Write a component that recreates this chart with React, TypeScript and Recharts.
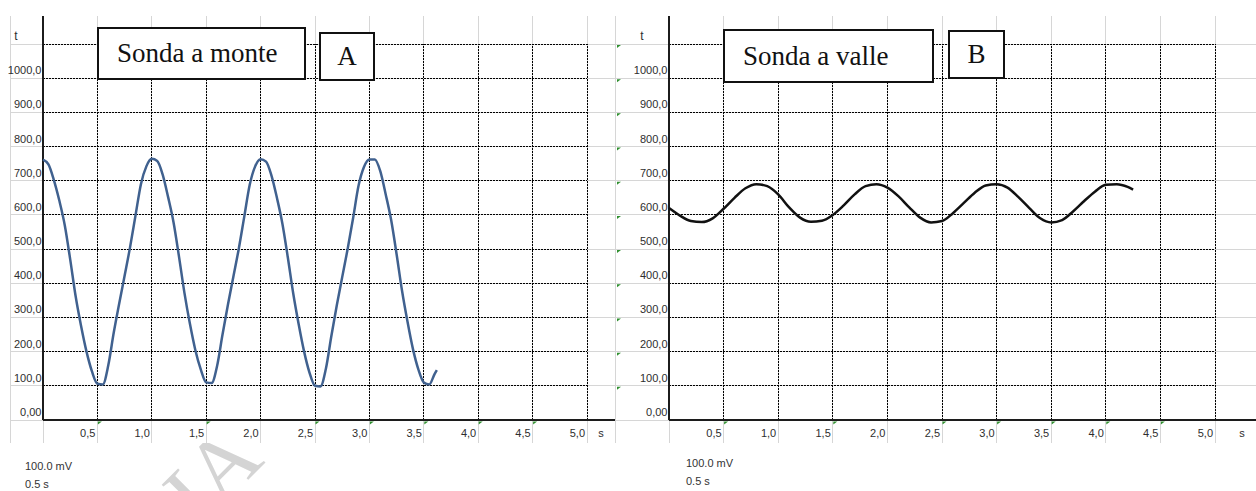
import { CartesianGrid, Line, LineChart, ReferenceLine, XAxis, YAxis } from "recharts";

// time ticks (s) and level ticks (t)
const xTicks = [0, 0.5, 1, 1.5, 2, 2.5, 3, 3.5, 4, 4.5, 5];
const yTicks = [0, 100, 200, 300, 400, 500, 600, 700, 800, 900, 1000, 1100];
// cells that carry the little green excel marker
const markedXTicks = [0.5, 1.5, 2.5, 3, 3.5, 4, 4.5];

// Sonda a monte (A)
const monteTime = [
  0, 0.05, 0.1, 0.15, 0.2, 0.25, 0.3, 0.35, 0.4, 0.45, 0.5, 0.55, 0.6, 0.65, 0.7, 0.75, 0.8, 0.85, 0.9, 0.95,
  1, 1.05, 1.1, 1.15, 1.2, 1.25, 1.3, 1.35, 1.4, 1.45, 1.5, 1.55, 1.6, 1.65, 1.7, 1.75, 1.8, 1.85, 1.9, 1.95,
  2, 2.05, 2.1, 2.15, 2.2, 2.25, 2.3, 2.35, 2.4, 2.45, 2.5, 2.55, 2.6, 2.65, 2.7, 2.75, 2.8, 2.85, 2.9, 2.95,
  3, 3.05, 3.1, 3.15, 3.2, 3.25, 3.3, 3.35, 3.4, 3.45, 3.5, 3.55, 3.6, 3.62,
];
const monteValue = [
  762, 748, 702, 642, 570, 470, 362, 275, 200, 142, 106, 104, 160, 255, 340, 422, 505, 598, 690, 742,
  764, 758, 718, 652, 578, 478, 372, 282, 205, 148, 110, 108, 158, 250, 338, 420, 502, 595, 688, 742,
  763, 756, 715, 650, 575, 476, 370, 280, 200, 138, 100, 98, 150, 245, 335, 418, 500, 590, 685, 740,
  762, 762, 728, 660, 585, 485, 378, 288, 208, 148, 110, 104, 135, 146,
];

// Sonda a valle (B)
const valleTime = [
  0, 0.1, 0.2, 0.3, 0.4, 0.5, 0.6, 0.7, 0.8, 0.9, 1, 1.1, 1.2, 1.3, 1.4, 1.5, 1.6, 1.7, 1.8, 1.9, 2, 2.1,
  2.2, 2.3, 2.4, 2.5, 2.6, 2.7, 2.8, 2.9, 3, 3.1, 3.2, 3.3, 3.4, 3.5, 3.6, 3.7, 3.8, 3.9, 4, 4.1, 4.2, 4.25,
];
const valleValue = [
  620, 598, 582, 579, 590, 618, 650, 678, 690, 684, 660, 622, 592, 580, 583, 600, 628, 660, 684, 690, 680, 655,
  622, 592, 578, 582, 605, 635, 665, 686, 690, 680, 652, 620, 590, 578, 585, 610, 640, 668, 688, 690, 682, 674,
];

const monteData = monteTime.map((t, i) => ({ t, v: monteValue[i] }));
const valleData = valleTime.map((t, i) => ({ t, v: valleValue[i] }));

const CHART_H = 491;
const PLOT_TOP = 44;
const PLOT_BOTTOM = 420;
const CELL_TOP = 16;
const CELL_BOTTOM = 443;
const GREEN = "#2f8f2f";
const LABEL = "#2e2e2e";
const CELL = "#d6d6d6";
const SANS = "'Liberation Sans', Arial, sans-serif";
const SERIF = "'Liberation Serif', 'Times New Roman', serif";

const fmtY = (v: number) => (v === 0 ? "0,00" : `${v},0`);
const fmtX = (v: number) => v.toFixed(1).replace(".", ",");

type PanelProps = {
  data: { t: number; v: number }[];
  color: string;
  width: number;
  axisWidth: number;
  marginRight: number;
  cellLeft: number;
  sGap: number;
  columnMarks?: boolean;
};

function Panel({ data, color, width, axisWidth, marginRight, cellLeft, sGap, columnMarks }: PanelProps) {
  const plotW = width - axisWidth - marginRight;
  const plotH = PLOT_BOTTOM - PLOT_TOP;
  const toX = (px: number) => ((px - axisWidth) / plotW) * 5;
  const toY = (py: number) => ((PLOT_BOTTOM - py) / plotH) * 1100;
  const gxMin = toX(cellLeft);
  const gxMax = toX(width);
  const gyMin = toY(CELL_BOTTOM);
  const gyMax = toY(CELL_TOP);

  const xTick = (props: any) => {
    const { x, payload } = props;
    const v = payload.value as number;
    return (
      <g>
        {markedXTicks.includes(v) && (
          <polygon points={`${x + 0.5},${PLOT_BOTTOM + 1.5} ${x + 4.5},${PLOT_BOTTOM + 1.5} ${x + 0.5},${PLOT_BOTTOM + 4.5}`} fill={GREEN} />
        )}
        {v > 0 && (
          <text x={x - 2} y={437} textAnchor="end" fontSize={11} fontFamily={SANS} fill={LABEL}>
            {fmtX(v)}
          </text>
        )}
        {v === 5 && (
          <text x={x + sGap} y={437} textAnchor="middle" fontSize={11} fontFamily={SANS} fill={LABEL}>
            s
          </text>
        )}
      </g>
    );
  };

  const yTick = (props: any) => {
    const { y, payload } = props;
    const v = payload.value as number;
    return (
      <g>
        {columnMarks && v > 0 && (
          <polygon points={`${2},${y + 1} ${6},${y + 1} ${2},${y + 4}`} fill={GREEN} />
        )}
        {v === 1100 ? (
          <text x={axisWidth - 27} y={y - 4} textAnchor="middle" fontSize={12} fontFamily={SANS} fill={LABEL}>
            t
          </text>
        ) : (
          <text x={axisWidth - 1.5} y={y - 4} textAnchor="end" fontSize={11} fontFamily={SANS} fill={LABEL}>
            {fmtY(v)}
          </text>
        )}
      </g>
    );
  };

  return (
    <LineChart width={width} height={CHART_H} data={data} margin={{ top: PLOT_TOP, right: marginRight, bottom: 0, left: 0 }}>
      {/* light spreadsheet cell lines, inside and around the plot */}
      <CartesianGrid stroke={CELL} shapeRendering="crispEdges" />
      {yTicks.map((v) => (
        <ReferenceLine
          key={`gh${v}`}
          segment={[{ x: gxMin, y: v }, { x: gxMax, y: v }]}
          stroke={CELL}
          shapeRendering="crispEdges"
          ifOverflow="visible"
        />
      ))}
      {[gxMin, ...xTicks].map((v) => (
        <ReferenceLine
          key={`gv${v}`}
          segment={[{ x: v, y: gyMin }, { x: v, y: gyMax }]}
          stroke={CELL}
          shapeRendering="crispEdges"
          ifOverflow="visible"
        />
      ))}
      {/* dotted chart gridlines on top */}
      {yTicks.map((v) => (
        <ReferenceLine key={`dh${v}`} y={v} stroke="#000" strokeDasharray="2 1" shapeRendering="crispEdges" />
      ))}
      {xTicks.map((v) => (
        <ReferenceLine key={`dv${v}`} x={v} stroke="#000" strokeDasharray="2 1" shapeRendering="crispEdges" />
      ))}
      <XAxis
        type="number"
        dataKey="t"
        domain={[0, 5]}
        ticks={xTicks}
        interval={0}
        height={CHART_H - PLOT_BOTTOM}
        axisLine={false}
        tickLine={false}
        tick={xTick}
      />
      <YAxis
        type="number"
        domain={[0, 1100]}
        ticks={yTicks}
        interval={0}
        width={axisWidth}
        axisLine={false}
        tickLine={false}
        tick={yTick}
      />
      <ReferenceLine segment={[{ x: 0, y: 0 }, { x: 0, y: gyMax }]} stroke="#1c1c1c" strokeWidth={2} shapeRendering="crispEdges" ifOverflow="visible" />
      <ReferenceLine segment={[{ x: 0, y: 0 }, { x: gxMax, y: 0 }]} stroke="#1c1c1c" strokeWidth={2} shapeRendering="crispEdges" ifOverflow="visible" />
      <Line type="monotone" dataKey="v" stroke={color} strokeWidth={2.5} dot={false} isAnimationActive={false} />
    </LineChart>
  );
}

const boxStyle = {
  position: "absolute" as const,
  border: "2px solid #111",
  background: "#fff",
  fontFamily: SERIF,
  fontSize: 27,
  color: "#111",
  boxSizing: "border-box" as const,
  whiteSpace: "nowrap" as const,
};

const noteStyle = {
  position: "absolute" as const,
  fontFamily: SANS,
  fontSize: 11,
  lineHeight: "13px",
  color: "#333",
};

export default function App() {
  return (
    <div style={{ position: "absolute", left: 0, top: 0, width: 1256, height: 491, background: "#fff", overflow: "hidden" }}>
      <svg width={1256} height={491} style={{ position: "absolute", left: 0, top: 0 }}>
        <text x={266} y={462} textAnchor="end" transform="rotate(-45 266 462)" fontSize={88} fontFamily={SERIF} fill="#d4d4d4">
          COPIA
        </text>
      </svg>
      <div style={{ position: "absolute", left: 10, top: CELL_TOP, width: 605, height: CELL_BOTTOM - CELL_TOP, background: "#fff" }} />
      <div style={{ position: "absolute", left: 615, top: CELL_TOP, width: 641, height: CELL_BOTTOM - CELL_TOP, background: "#fff" }} />

      <div style={{ position: "absolute", left: 0, top: 0 }}>
        <Panel data={monteData} color="#40618f" width={615} axisWidth={43} marginRight={28} cellLeft={10} sGap={14} />
      </div>
      <div style={{ position: "absolute", left: 615, top: 0 }}>
        <Panel data={valleData} color="#111" width={641} axisWidth={54} marginRight={41} cellLeft={0} sGap={27} columnMarks />
      </div>

      <div style={{ ...boxStyle, left: 97, top: 27, width: 209, height: 53, lineHeight: "49px", paddingLeft: 18 }}>Sonda a monte</div>
      <div style={{ ...boxStyle, left: 319, top: 32, width: 56, height: 49, lineHeight: "45px", textAlign: "center" }}>A</div>
      <div style={{ ...boxStyle, left: 723, top: 29, width: 211, height: 54, lineHeight: "50px", paddingLeft: 18 }}>Sonda a valle</div>
      <div style={{ ...boxStyle, left: 948, top: 30, width: 57, height: 49, lineHeight: "45px", textAlign: "center" }}>B</div>

      <div style={{ ...noteStyle, left: 25, top: 460 }}>100.0 mV</div>
      <div style={{ ...noteStyle, left: 25, top: 478 }}>0.5 s</div>
      <div style={{ ...noteStyle, left: 686, top: 457 }}>100.0 mV</div>
      <div style={{ ...noteStyle, left: 686, top: 475 }}>0.5 s</div>
    </div>
  );
}
